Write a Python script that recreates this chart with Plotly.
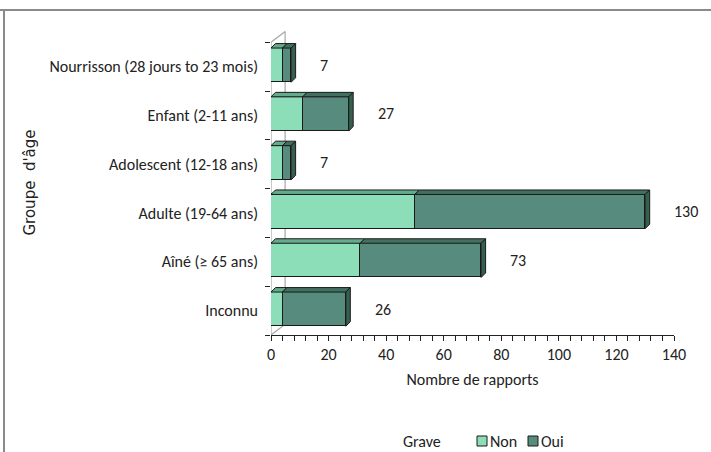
import plotly.graph_objects as go

# Rapports par groupe d'âge, ventilés selon la gravité
categories = [
    "Nourrisson (28 jours to 23 mois)",
    "Enfant (2-11 ans)",
    "Adolescent (12-18 ans)",
    "Adulte (19-64 ans)",
    "Aîné (≥ 65 ans)",
    "Inconnu",
]
non_grave = [4, 11, 4, 50, 31, 4]
oui_grave = [3, 16, 3, 80, 42, 22]
series_names = ["Non", "Oui"]
x_ticks = [0, 20, 40, 60, 80, 100, 120, 140]

totals = [a + b for a, b in zip(non_grave, oui_grave)]
pos = list(range(len(categories)))

# style
FONT = "Carlito, 'Liberation Sans Narrow', 'DejaVu Sans Condensed', sans-serif"
FS = 16
C_NON, C_OUI = "#8cdeb8", "#568b7d"
C_NON_TOP, C_OUI_TOP = "#63ab8c", "#40705f"
C_OUI_SIDE = "#35604f"
EDGE = "#1a1a1a"
BAR_W, BAR_OFF = 0.70, -0.38
DX, DY = 1.55, 0.092          # depth of the 3D faces in axis units
WALL_X, WALL_Y = 4.9, 0.22     # depth of the back wall

fig = go.Figure()

for name, vals, col in [(series_names[0], non_grave, C_NON),
                        (series_names[1], oui_grave, C_OUI)]:
    fig.add_trace(go.Bar(
        name=name, x=vals, y=pos, orientation="h",
        width=BAR_W, offset=BAR_OFF,
        marker=dict(color=col, line=dict(color=EDGE, width=1)),
        hoverinfo="x", showlegend=False,
    ))


def face_trace(xs, ys, color):
    return go.Scatter(x=xs, y=ys, mode="lines", fill="toself", fillcolor=color,
                      line=dict(color=EDGE, width=1), showlegend=False,
                      hoverinfo="skip")


# top faces of each stacked segment, side face at the end of each bar
top_non_x, top_non_y, top_oui_x, top_oui_y, side_x, side_y = [], [], [], [], [], []
for i, (a, b) in enumerate(zip(non_grave, oui_grave)):
    y_top = i + BAR_OFF
    y_bot = y_top + BAR_W
    top_non_x += [0, a, a + DX, DX, 0, None]
    top_non_y += [y_top, y_top, y_top - DY, y_top - DY, y_top, None]
    e = a + b
    top_oui_x += [a, e, e + DX, a + DX, a, None]
    top_oui_y += [y_top, y_top, y_top - DY, y_top - DY, y_top, None]
    side_x += [e, e + DX, e + DX, e, e, None]
    side_y += [y_top, y_top - DY, y_bot - DY, y_bot, y_top, None]

fig.add_trace(face_trace(top_non_x, top_non_y, C_NON_TOP))
fig.add_trace(face_trace(top_oui_x, top_oui_y, C_OUI_TOP))
fig.add_trace(face_trace(side_x, side_y, C_OUI_SIDE))

# total labels
for i, t in enumerate(totals):
    fig.add_annotation(x=t, y=i - 0.03, text=str(t), showarrow=False,
                       xanchor="left", xshift=27,
                       font=dict(family=FONT, size=FS, color="#222"))

# back wall and y-axis line
wall = "#a6a6a6"
y0, y1 = -0.5, len(categories) - 0.5
for shp in [
    dict(x0=0, y0=y0, x1=0, y1=y1),
    dict(x0=0, y0=y0, x1=WALL_X, y1=y0 - WALL_Y),
    dict(x0=WALL_X, y0=y0 - WALL_Y, x1=WALL_X, y1=y1 - WALL_Y),
    dict(x0=0, y0=y1, x1=WALL_X, y1=y1 - WALL_Y),
]:
    fig.add_shape(type="line", xref="x", yref="y", layer="below",
                  line=dict(color=wall, width=1.2), **shp)

# outer frame (top and left edges)
L, R, T, B, W, H = 271, 37, 30, 117, 711, 452
pw, ph = W - L - R, H - T - B
def px(x): return (x - L) / pw
def py(y): return (H - B - y) / ph
fig.add_shape(type="line", xref="paper", yref="paper", x0=px(0), x1=px(W),
              y0=py(10), y1=py(10), line=dict(color="#8a8a8a", width=2))
fig.add_shape(type="line", xref="paper", yref="paper", x0=px(4), x1=px(4),
              y0=py(10), y1=py(H), line=dict(color="#8a8a8a", width=2))

# legend: "Grave"  [Non] [Oui]
leg_y = 441
fig.add_annotation(xref="paper", yref="paper", x=px(401), y=py(leg_y),
                   xanchor="left", yanchor="middle", text="Grave",
                   showarrow=False, font=dict(family=FONT, size=FS, color="#222"))
for name, col, sx in [(series_names[0], C_NON, 477), (series_names[1], C_OUI, 528)]:
    fig.add_shape(type="rect", xref="paper", yref="paper",
                  x0=px(sx), x1=px(sx + 10), y0=py(leg_y - 5), y1=py(leg_y + 5),
                  fillcolor=col, line=dict(color=EDGE, width=1))
    fig.add_annotation(xref="paper", yref="paper", x=px(sx + 11), y=py(leg_y),
                       xanchor="left", yanchor="middle", text=name,
                       showarrow=False,
                       font=dict(family=FONT, size=FS, color="#222"))

fig.update_layout(
    width=W, height=H,
    margin=dict(l=L, r=R, t=T, b=B),
    paper_bgcolor="white", plot_bgcolor="white",
    barmode="stack", bargap=0,
    font=dict(family=FONT, size=FS, color="#222"),
    showlegend=False,
    xaxis=dict(range=[0, 140], tickvals=x_ticks, showgrid=False, zeroline=False,
               showline=True, linecolor="#222", linewidth=1,
               ticks="outside", ticklen=5, tickcolor="#222",
               minor=dict(dtick=4, ticks="outside", ticklen=5, tickcolor="#222"),
               title=dict(text="Nombre de rapports", standoff=10,
                          font=dict(family=FONT, size=FS)),
               tickfont=dict(family=FONT, size=FS)),
    yaxis=dict(range=[5.5, -0.75], tickvals=pos, ticktext=categories,
               showgrid=False, zeroline=False, showline=False, ticks="",
               ticklabelstandoff=12,
               minor=dict(tickvals=[k - 0.5 for k in range(len(categories) + 1)],
                          ticks="outside", ticklen=5, tickcolor="#222"),
               tickfont=dict(family=FONT, size=FS),
               title=dict(text="Groupe\u00a0 d'âge", standoff=10,
                          font=dict(family="'DejaVu Sans', sans-serif",
                                    size=15, color="#222"))),
)

fig.write_html("out.html")
